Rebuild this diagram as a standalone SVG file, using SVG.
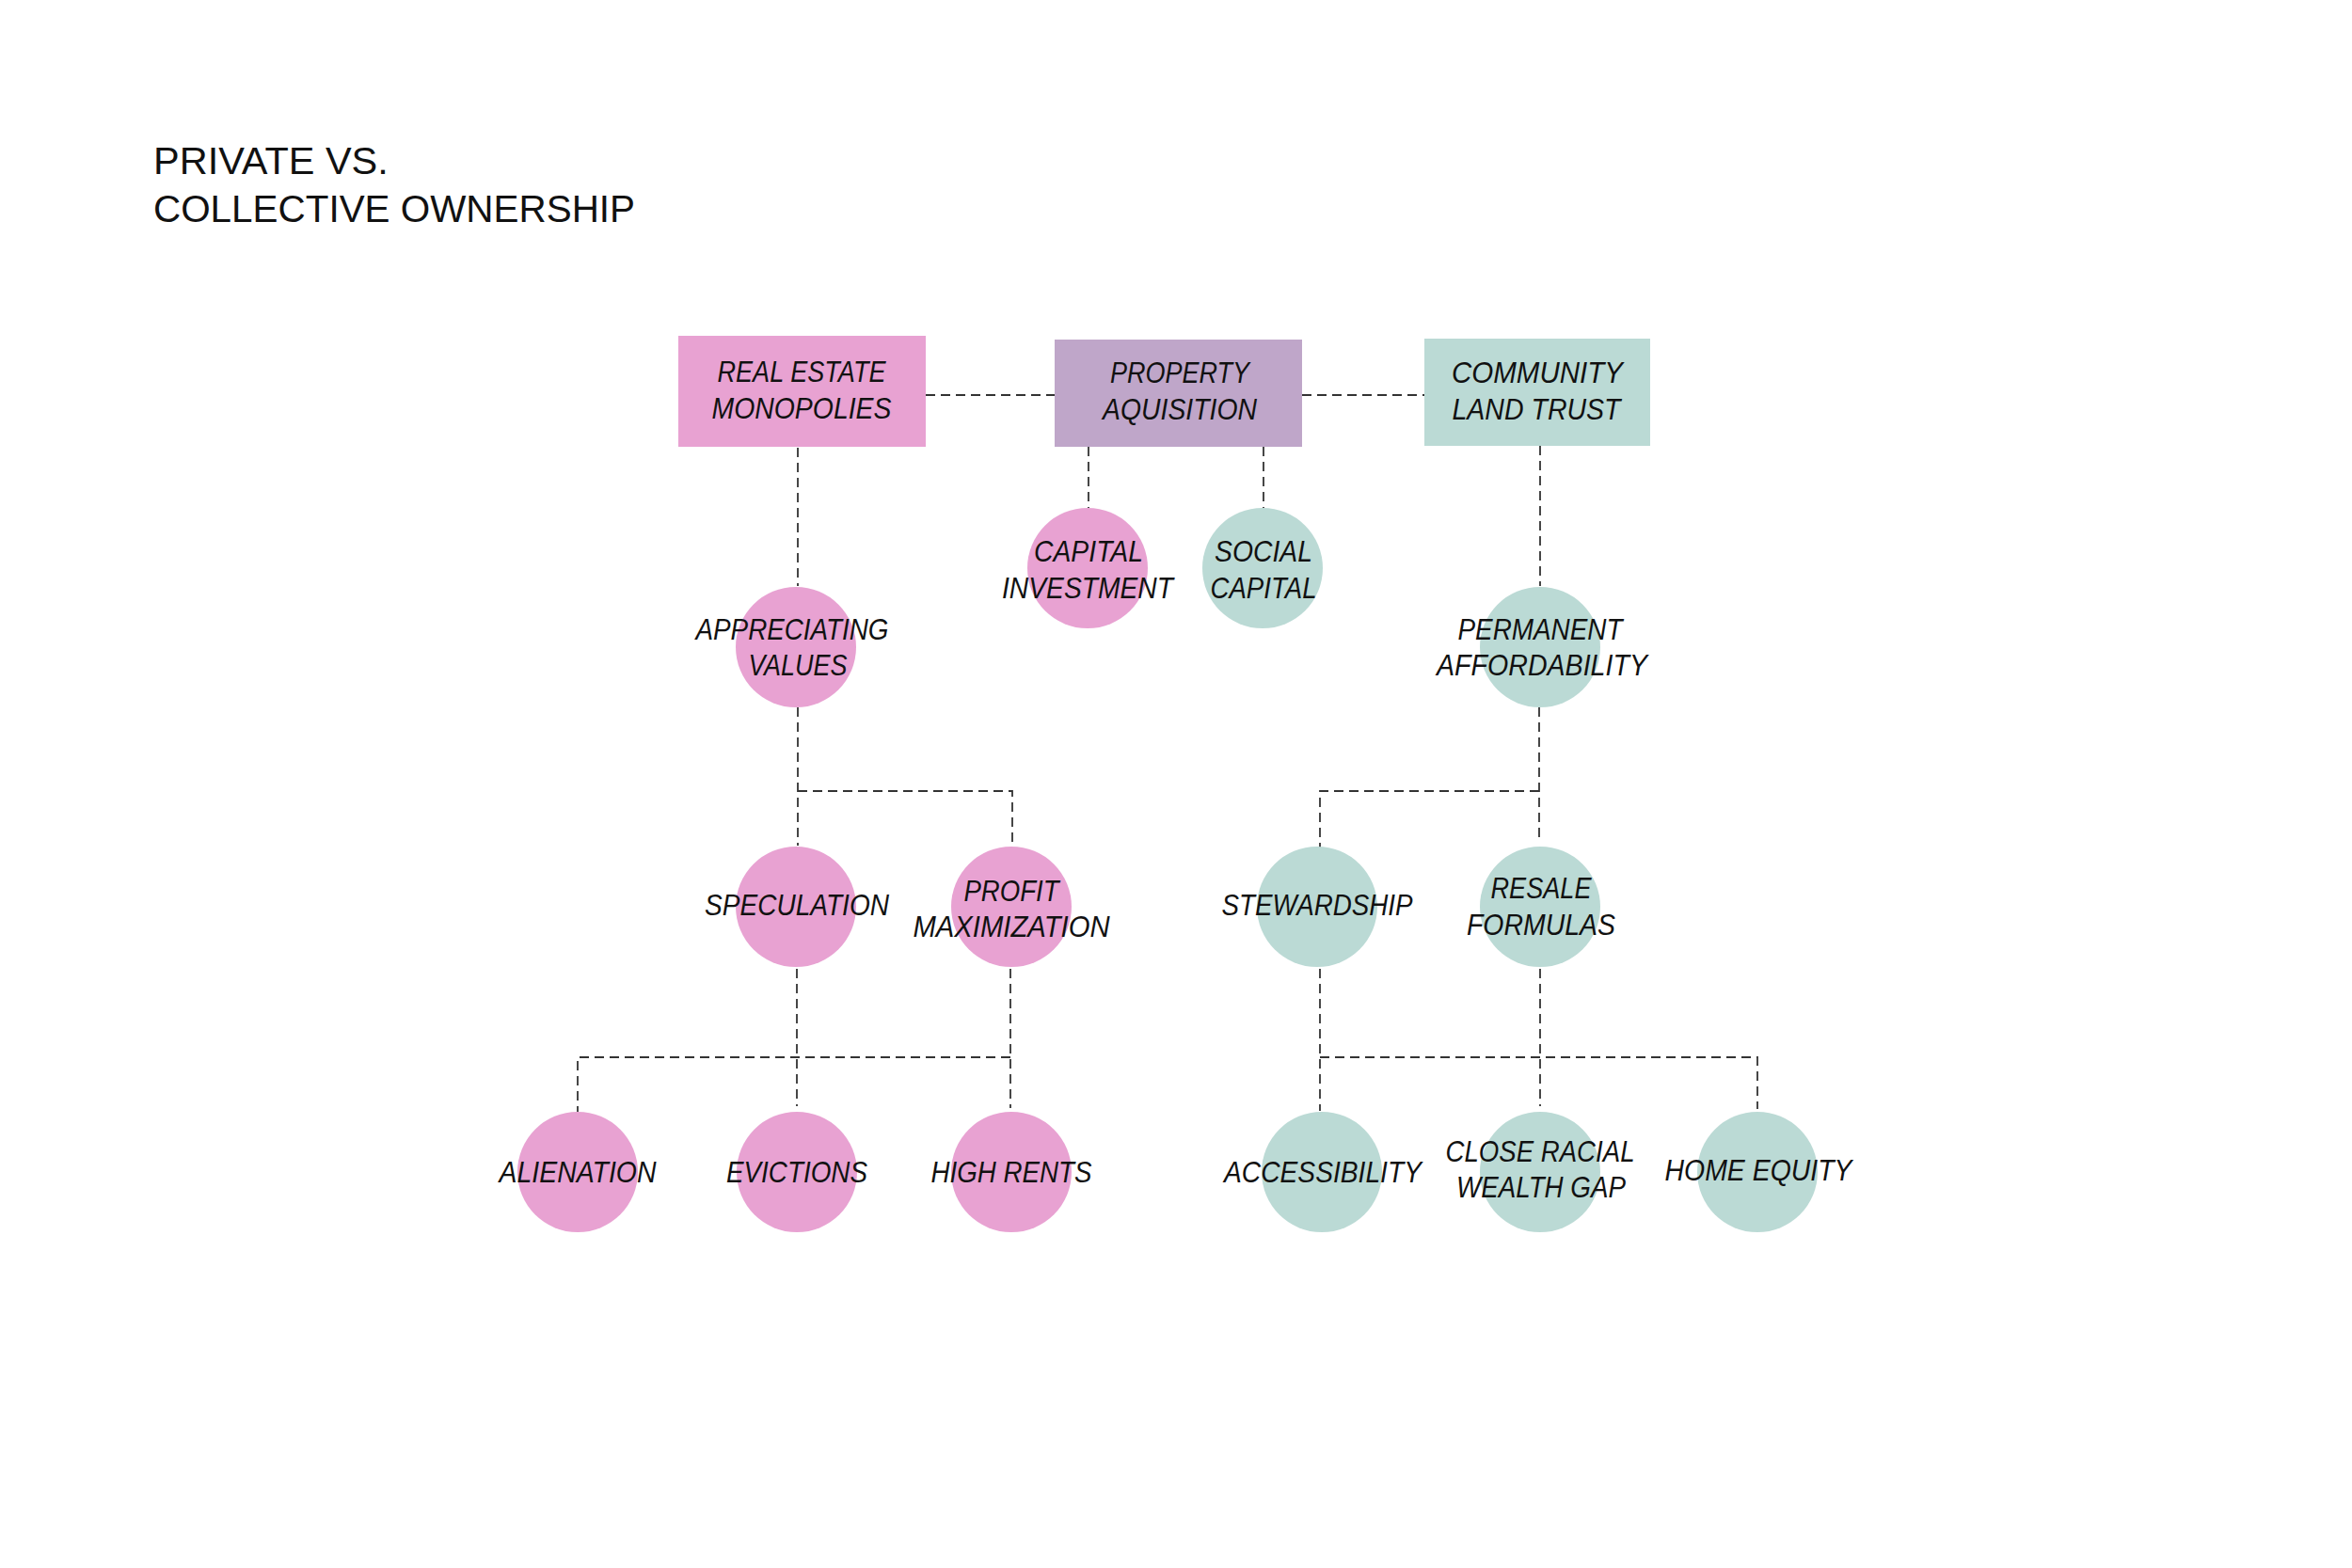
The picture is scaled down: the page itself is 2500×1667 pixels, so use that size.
<svg xmlns="http://www.w3.org/2000/svg" width="2500" height="1667" viewBox="0 0 2500 1667">
<style>
.pink{fill:#E8A2D2}
.purple{fill:#BFA6C9}
.teal{fill:#BBDAD5}
.lbl{font-family:"Liberation Sans",Arial,sans-serif;font-style:italic;font-size:31px;fill:#111;text-anchor:middle}
.title{font-family:"Liberation Sans",Arial,sans-serif;font-size:41.5px;fill:#111}
.conn{fill:none;stroke:#333;stroke-width:1.8;stroke-dasharray:10 6}
</style>
<rect width="2500" height="1667" fill="#fff"/>
<g id="title">
<text class="title" x="163" y="185">PRIVATE VS.</text>
<text class="title" x="163" y="236" textLength="512" lengthAdjust="spacingAndGlyphs">COLLECTIVE OWNERSHIP</text>
</g>
<g id="connectors">
<path class="conn" d="M984 420 H1121"/>
<path class="conn" d="M1384 420 H1514"/>
<path class="conn" d="M848 476 V623"/>
<path class="conn" d="M1157 475 V540"/>
<path class="conn" d="M1343 475 V540"/>
<path class="conn" d="M1637 474 V623"/>
<path class="conn" d="M848 752 V899"/>
<path class="conn" d="M848 841 H1076 V903"/>
<path class="conn" d="M1636 752 V893"/>
<path class="conn" d="M1636 841 H1403 V903"/>
<path class="conn" d="M847 1030 V1176"/>
<path class="conn" d="M1074 1030 V1178"/>
<path class="conn" d="M614 1186 V1124 H1075"/>
<path class="conn" d="M1403 1030 V1181"/>
<path class="conn" d="M1637 1030 V1176"/>
<path class="conn" d="M1403 1124 H1868 V1179"/>
</g>
<g id="real-estate-monopolies">
<rect class="pink" x="721" y="357" width="263" height="118"/>
<text class="lbl" x="852" y="406" textLength="179" lengthAdjust="spacingAndGlyphs">REAL ESTATE</text>
<text class="lbl" x="852" y="445" textLength="191" lengthAdjust="spacingAndGlyphs">MONOPOLIES</text>
</g>
<g id="property-aquisition">
<rect class="purple" x="1121" y="361" width="263" height="114"/>
<text class="lbl" x="1254" y="407" textLength="148" lengthAdjust="spacingAndGlyphs">PROPERTY</text>
<text class="lbl" x="1254" y="446" textLength="164" lengthAdjust="spacingAndGlyphs">AQUISITION</text>
</g>
<g id="community-land-trust">
<rect class="teal" x="1514" y="360" width="240" height="114"/>
<text class="lbl" x="1634" y="407" textLength="182" lengthAdjust="spacingAndGlyphs">COMMUNITY</text>
<text class="lbl" x="1633" y="446" textLength="179" lengthAdjust="spacingAndGlyphs">LAND TRUST</text>
</g>
<g id="capital-investment">
<circle class="pink" cx="1156" cy="604" r="64"/>
<text class="lbl" x="1157" y="597" textLength="116" lengthAdjust="spacingAndGlyphs">CAPITAL</text>
<text class="lbl" x="1156" y="636" textLength="182" lengthAdjust="spacingAndGlyphs">INVESTMENT</text>
</g>
<g id="social-capital">
<circle class="teal" cx="1342" cy="604" r="64"/>
<text class="lbl" x="1343" y="597" textLength="104" lengthAdjust="spacingAndGlyphs">SOCIAL</text>
<text class="lbl" x="1343" y="636" textLength="113" lengthAdjust="spacingAndGlyphs">CAPITAL</text>
</g>
<g id="appreciating-values">
<circle class="pink" cx="846" cy="688" r="64"/>
<text class="lbl" x="842" y="680" textLength="205" lengthAdjust="spacingAndGlyphs">APPRECIATING</text>
<text class="lbl" x="848" y="718" textLength="105" lengthAdjust="spacingAndGlyphs">VALUES</text>
</g>
<g id="permanent-affordability">
<circle class="teal" cx="1637" cy="688" r="64"/>
<text class="lbl" x="1637" y="680" textLength="175" lengthAdjust="spacingAndGlyphs">PERMANENT</text>
<text class="lbl" x="1639" y="718" textLength="224" lengthAdjust="spacingAndGlyphs">AFFORDABILITY</text>
</g>
<g id="speculation">
<circle class="pink" cx="846" cy="964" r="64"/>
<text class="lbl" x="847" y="973" textLength="196" lengthAdjust="spacingAndGlyphs">SPECULATION</text>
</g>
<g id="profit-maximization">
<circle class="pink" cx="1075" cy="964" r="64"/>
<text class="lbl" x="1075" y="958" textLength="101" lengthAdjust="spacingAndGlyphs">PROFIT</text>
<text class="lbl" x="1075" y="996" textLength="209" lengthAdjust="spacingAndGlyphs">MAXIMIZATION</text>
</g>
<g id="stewardship">
<circle class="teal" cx="1400" cy="964" r="64"/>
<text class="lbl" x="1400" y="973" textLength="203" lengthAdjust="spacingAndGlyphs">STEWARDSHIP</text>
</g>
<g id="resale-formulas">
<circle class="teal" cx="1637" cy="964" r="64"/>
<text class="lbl" x="1638" y="955" textLength="107" lengthAdjust="spacingAndGlyphs">RESALE</text>
<text class="lbl" x="1638" y="994" textLength="158" lengthAdjust="spacingAndGlyphs">FORMULAS</text>
</g>
<g id="alienation">
<circle class="pink" cx="614" cy="1246" r="64"/>
<text class="lbl" x="614" y="1257" textLength="167" lengthAdjust="spacingAndGlyphs">ALIENATION</text>
</g>
<g id="evictions">
<circle class="pink" cx="847" cy="1246" r="64"/>
<text class="lbl" x="847" y="1257" textLength="150" lengthAdjust="spacingAndGlyphs">EVICTIONS</text>
</g>
<g id="high-rents">
<circle class="pink" cx="1075" cy="1246" r="64"/>
<text class="lbl" x="1075" y="1257" textLength="171" lengthAdjust="spacingAndGlyphs">HIGH RENTS</text>
</g>
<g id="accessibility">
<circle class="teal" cx="1405" cy="1246" r="64"/>
<text class="lbl" x="1406" y="1257" textLength="210" lengthAdjust="spacingAndGlyphs">ACCESSIBILITY</text>
</g>
<g id="close-racial-wealth-gap">
<circle class="teal" cx="1637" cy="1246" r="64"/>
<text class="lbl" x="1637" y="1235" textLength="201" lengthAdjust="spacingAndGlyphs">CLOSE RACIAL</text>
<text class="lbl" x="1638" y="1273" textLength="180" lengthAdjust="spacingAndGlyphs">WEALTH GAP</text>
</g>
<g id="home-equity">
<circle class="teal" cx="1868" cy="1246" r="64"/>
<text class="lbl" x="1869" y="1255" textLength="199" lengthAdjust="spacingAndGlyphs">HOME EQUITY</text>
</g>
</svg>
